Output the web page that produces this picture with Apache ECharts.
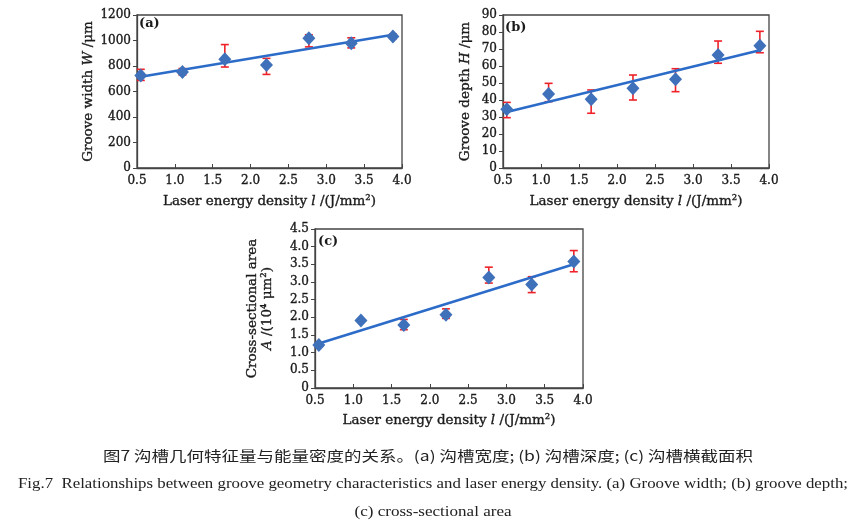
<!DOCTYPE html>
<html>
<head>
<meta charset="utf-8">
<script src="https://cdn.jsdelivr.net/npm/echarts@6/dist/echarts.min.js"></script>
<style>
html,body{margin:0;padding:0;background:#fff;}
#c{width:868px;height:527px;}
</style>
</head>
<body>
<div id="c"></div>
<script>
// ---------- data ----------
const energy = [0.55, 1.10, 1.66, 2.21, 2.77, 3.33, 3.88];

const widthMean = [726, 752, 853, 808, 1018, 979, 1032];
const widthLow  = [687, 730, 792, 734, 950, 942, 1015];
const widthHigh = [774, 780, 968, 860, 1045, 1021, 1050];
const widthFitX = [0.55, 3.88];
const widthFitY = [716, 1045];

const depthMean = [34.5, 43.5, 40.4, 46.9, 52.2, 66.5, 71.9];
const depthLow  = [29.6, 39.0, 32.2, 40.0, 44.9, 61.6, 67.8];
const depthHigh = [38.6, 49.8, 45.9, 54.7, 58.4, 74.7, 80.4];
const depthFitX = [0.55, 3.88];
const depthFitY = [33.0, 69.2];

const areaMean = [1.22, 1.91, 1.78, 2.07, 3.13, 2.93, 3.58];
const areaLow  = [1.17, 1.87, 1.65, 1.97, 2.97, 2.70, 3.29];
const areaHigh = [1.27, 1.95, 1.94, 2.24, 3.42, 3.15, 3.89];
const areaFitX = [0.55, 3.88];
const areaFitY = [1.26, 3.50];

const xTicks = {min: 0.5, max: 4.0, interval: 0.5};
const widthTicks = {min: 0, max: 1200, interval: 200};
const depthTicks = {min: 0, max: 90, interval: 10};
const areaTicks = {min: 0, max: 4.5, interval: 0.5};

const panelLabels = ['(a)', '(b)', '(c)'];
const captionCN = '图7 沟槽几何特征量与能量密度的关系。(a) 沟槽宽度; (b) 沟槽深度; (c) 沟槽横截面积';
const captionEN1 = 'Fig.7  Relationships between groove geometry characteristics and laser energy density. (a) Groove width; (b) groove depth;';
const captionEN2 = '(c) cross-sectional area';

// ---------- styles ----------
const SERIF = '"DejaVu Serif", "Liberation Serif", serif';
const CAP_SERIF = '"Liberation Serif", "Times New Roman", serif';
const AXIS_COLOR = '#444';
const MARK_COLOR = '#3f70ba';
const FIT_COLOR = '#2c6cc8';
const ERR_COLOR = '#ee2228';
const TEXT_COLOR = '#1a1a1a';
const EMBOLDEN = {textBorderColor: TEXT_COLOR, textBorderWidth: 0.35};

const chart = echarts.init(document.getElementById('c'), null, {renderer: 'canvas'});

const grids = [
  {left: 137, top: 15, width: 265, height: 153},
  {left: 503, top: 15, width: 266, height: 153},
  {left: 315, top: 229, width: 268, height: 159}
];

const nameRich = {
  n: Object.assign({fontFamily: SERIF, fontSize: 13.5, color: TEXT_COLOR}, EMBOLDEN),
  i: Object.assign({fontFamily: SERIF, fontSize: 13.5, color: TEXT_COLOR, fontStyle: 'italic'}, EMBOLDEN)
};

function xAxisFor(idx, gap) {
  return {
    type: 'value', gridIndex: idx,
    min: xTicks.min, max: xTicks.max, interval: xTicks.interval,
    name: '{n|Laser energy density }{i|l}{n| /(J/mm²)}',
    nameLocation: 'middle', nameGap: gap,
    nameTextStyle: {rich: nameRich},
    axisLine: {show: true, onZero: false, lineStyle: {color: AXIS_COLOR, width: 1.3}},
    axisTick: {show: true, inside: true, length: 4, lineStyle: {color: AXIS_COLOR}},
    axisLabel: Object.assign({fontFamily: SERIF, fontSize: 12, color: TEXT_COLOR, margin: 7,
      formatter: v => v.toFixed(1)}, EMBOLDEN),
    splitLine: {show: false}
  };
}
function yAxisFor(idx, ticks, name, gap, fmt) {
  return {
    type: 'value', gridIndex: idx,
    min: ticks.min, max: ticks.max, interval: ticks.interval,
    name: name, nameLocation: 'middle', nameGap: gap, nameRotate: 90,
    nameTextStyle: {rich: nameRich, lineHeight: 15},
    axisLine: {show: true, onZero: false, lineStyle: {color: AXIS_COLOR, width: 1.3}},
    axisTick: {show: true, inside: false, length: 4, lineStyle: {color: AXIS_COLOR}},
    axisLabel: Object.assign({fontFamily: SERIF, fontSize: 12, color: TEXT_COLOR, margin: 6, formatter: fmt}, EMBOLDEN),
    splitLine: {show: false}
  };
}

function errorSeries(idx, lo, hi) {
  return {
    type: 'custom', xAxisIndex: idx, yAxisIndex: idx, z: 2,
    data: energy.map((x, k) => [x, lo[k], hi[k]]),
    renderItem: function (params, api) {
      const x = api.value(0);
      const pLo = api.coord([x, api.value(1)]);
      const pHi = api.coord([x, api.value(2)]);
      const hw = 4;
      const st = {stroke: ERR_COLOR, lineWidth: 1.6};
      return {type: 'group', children: [
        {type: 'line', shape: {x1: pLo[0], y1: pLo[1], x2: pHi[0], y2: pHi[1]}, style: st},
        {type: 'line', shape: {x1: pLo[0] - hw, y1: pLo[1], x2: pLo[0] + hw, y2: pLo[1]}, style: st},
        {type: 'line', shape: {x1: pHi[0] - hw, y1: pHi[1], x2: pHi[0] + hw, y2: pHi[1]}, style: st}
      ]};
    }
  };
}
function fitSeries(idx, fx, fy) {
  return {
    type: 'line', xAxisIndex: idx, yAxisIndex: idx, z: 3,
    data: fx.map((x, k) => [x, fy[k]]),
    showSymbol: false, symbol: 'none',
    lineStyle: {color: FIT_COLOR, width: 2.6},
    silent: true
  };
}
function pointSeries(idx, ys) {
  return {
    type: 'scatter', xAxisIndex: idx, yAxisIndex: idx, z: 4,
    data: energy.map((x, k) => [x, ys[k]]),
    symbol: 'diamond', symbolSize: [13, 14],
    itemStyle: {color: MARK_COLOR, opacity: 1}
  };
}

// caption fitting to the reference widths
function measure(text, font) {
  const ctx = document.createElement('canvas').getContext('2d');
  ctx.font = font;
  return ctx.measureText(text).width;
}
function captionText(text, cx, cy, size, family, targetW) {
  const w = measure(text, size + 'px ' + family);
  return {
    type: 'text', x: cx, y: cy, scaleX: targetW / w, scaleY: 1,
    style: {text: text, font: size + 'px ' + family, fill: '#222',
      textAlign: 'center', textVerticalAlign: 'middle'}
  };
}
function panelLabel(text, x, y) {
  return {
    type: 'text', x: x, y: y,
    style: {text: text, font: 'bold 13px ' + SERIF, fill: TEXT_COLOR, textAlign: 'left', textVerticalAlign: 'middle'}
  };
}

const option = {
  backgroundColor: '#fff',
  animation: false,
  grid: grids.map(g => Object.assign({show: true, borderColor: AXIS_COLOR, borderWidth: 1.3, backgroundColor: 'transparent'}, g)),
  xAxis: [xAxisFor(0, 26), xAxisFor(1, 26), xAxisFor(2, 25)],
  yAxis: [
    yAxisFor(0, widthTicks, '{n|Groove width }{i|W}{n| /μm}', 39, v => String(v)),
    yAxisFor(1, depthTicks, '{n|Groove depth }{i|H}{n| /μm}', 30, v => String(v)),
    yAxisFor(2, areaTicks, '{n|Cross-sectional area}\n{i|A}{n| /(10⁴ μm²)}', 40, v => v === 0 ? '0' : v.toFixed(1))
  ],
  series: [
    errorSeries(0, widthLow, widthHigh), fitSeries(0, widthFitX, widthFitY), pointSeries(0, widthMean),
    errorSeries(1, depthLow, depthHigh), fitSeries(1, depthFitX, depthFitY), pointSeries(1, depthMean),
    errorSeries(2, areaLow, areaHigh), fitSeries(2, areaFitX, areaFitY), pointSeries(2, areaMean)
  ],
  graphic: [
    panelLabel(panelLabels[0], 139, 24),
    panelLabel(panelLabels[1], 505, 28),
    panelLabel(panelLabels[2], 318, 242),
    captionText(captionCN, 428, 456, 14, '"Noto Sans CJK SC"', 650),
    captionText(captionEN1, 433, 484, 14, CAP_SERIF, 830),
    captionText(captionEN2, 433, 512, 14, CAP_SERIF, 157)
  ]
};
chart.setOption(option);
</script>
</body>
</html>
